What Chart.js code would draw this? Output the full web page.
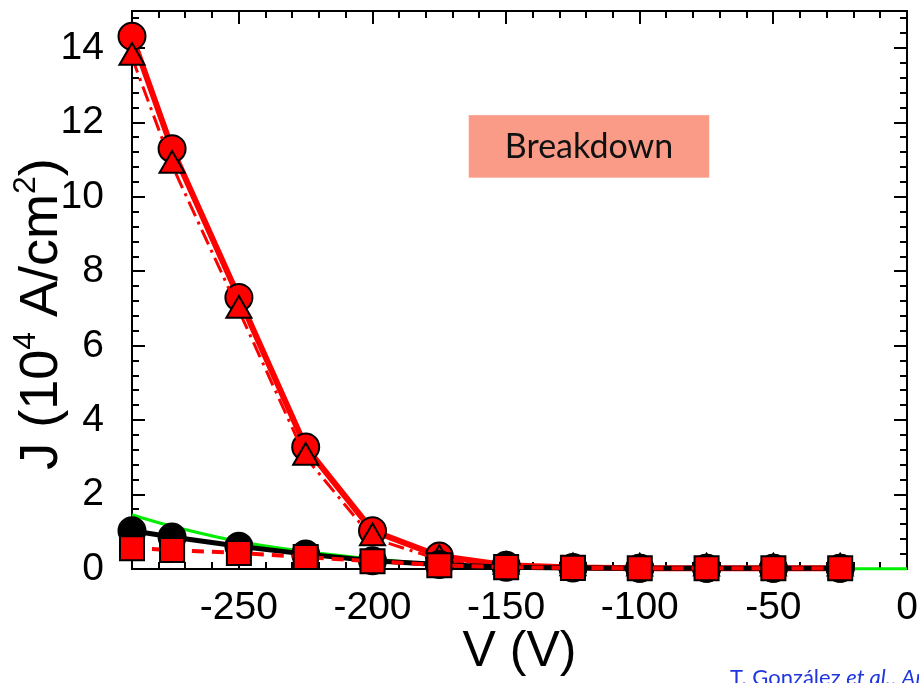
<!DOCTYPE html>
<html>
<head>
<meta charset="utf-8">
<script src="https://cdn.jsdelivr.net/npm/chart.js@4.4.0/dist/chart.umd.min.js"></script>
<style>
  html, body { margin: 0; padding: 0; background: #fff; }
</style>
</head>
<body>
<canvas id="graficoJV" width="919" height="683"></canvas>
<script>
// Datos (V en voltios, J en 10^4 A/cm^2)
const voltajes = [-290, -275, -250, -225, -200, -175, -150, -125, -100, -75, -50, -25];
const jCirculosRojos = [14.32, 11.3, 7.3, 3.28, 1.03, 0.35, 0.1, 0.04, 0.02, 0.02, 0.02, 0.02];
const jTriangulosRojos = [13.75, 10.85, 6.95, 3.0, 0.83, 0.25, 0.07, 0.03, 0.02, 0.02, 0.02, 0.02];
const jCirculosNegros = [1.03, 0.86, 0.61, 0.4, 0.22, 0.12, 0.05, 0.03, 0.02, 0.02, 0.02, 0.02];
const jCuadradosRojos = [0.56, 0.51, 0.43, 0.32, 0.21, 0.1, 0.05, 0.03, 0.02, 0.02, 0.02, 0.02];
const voltajesVerde = [-290, -275, -250, -225, -200, -175, -150, -125, -100, -75, -50, -25, 0];
const jVerde = [1.45, 1.15, 0.74, 0.47, 0.27, 0.13, 0.06, 0.03, 0.02, 0.01, 0.01, 0.01, 0.01];

const ticksX = [-250, -200, -150, -100, -50, 0];
const ticksY = [0, 2, 4, 6, 8, 10, 12, 14];

const pares = (xs, ys) => xs.map((x, i) => ({ x: x, y: ys[i] }));

// marco con ticks hacia dentro en los 4 lados + caja "Breakdown"
const marcoPlugin = {
    id: 'marco',
    beforeDatasetsDraw(chart) {
        const { ctx, chartArea: a, scales: { x, y } } = chart;
        ctx.save();
        // caja Breakdown
        const bx0 = x.getPixelForValue(-164), bx1 = x.getPixelForValue(-74);
        const by0 = y.getPixelForValue(12.2), by1 = y.getPixelForValue(10.52);
        ctx.fillStyle = '#fa9b88';
        ctx.fillRect(bx0, by0, bx1 - bx0, by1 - by0);
        ctx.fillStyle = '#111';
        ctx.font = '34px Lato';
        ctx.textAlign = 'center';
        ctx.textBaseline = 'middle';
        ctx.fillText('Breakdown', (bx0 + bx1) / 2, (by0 + by1) / 2 + 1);

        ctx.strokeStyle = '#000';
        ctx.lineWidth = 2;
        ctx.strokeRect(a.left, a.top, a.right - a.left, a.bottom - a.top);
        ctx.beginPath();
        for (let v = x.min; v <= x.max + 0.01; v += 10) {
            const px = Math.round(x.getPixelForValue(v));
            const largo = Math.abs(v % 50) < 0.01 ? 13 : 7;
            ctx.moveTo(px, a.bottom); ctx.lineTo(px, a.bottom - largo);
            ctx.moveTo(px, a.top); ctx.lineTo(px, a.top + largo);
        }
        for (let k = 0; k * 0.4 <= y.max + 0.001; k++) {
            const v = k * 0.4;
            const py = Math.round(y.getPixelForValue(v));
            const largo = (k % 5 === 0) ? 13 : 7;
            ctx.moveTo(a.left, py); ctx.lineTo(a.left + largo, py);
            ctx.moveTo(a.right, py); ctx.lineTo(a.right - largo, py);
        }
        ctx.stroke();
        ctx.restore();
    },
    afterDraw(chart) {
        const { ctx } = chart;
        ctx.save();
        // titulo eje Y con superindices
        const partes = [['J (10', 54, 0], ['4', 32, -22], [' A/cm', 54, 0], ['2', 32, -22], [')', 54, 0]];
        let total = 0;
        partes.forEach(p => { ctx.font = p[1] + 'px "Liberation Sans"'; total += ctx.measureText(p[0]).width; });
        ctx.translate(38, 314);
        ctx.rotate(-Math.PI / 2);
        ctx.fillStyle = '#000';
        ctx.textBaseline = 'alphabetic';
        let cx = -total / 2;
        partes.forEach(p => {
            ctx.font = p[1] + 'px "Liberation Sans"';
            ctx.fillText(p[0], cx, 19 + p[2]);
            cx += ctx.measureText(p[0]).width;
        });
        ctx.restore();

        // referencia
        ctx.save();
        ctx.fillStyle = '#1f35e0';
        ctx.textBaseline = 'alphabetic';
        let tx = 730;
        [['T. González ', ''], ['et al.', 'italic '], [', ', ''], ['Appl. Phys. Lett.', 'italic ']].forEach(p => {
            ctx.font = p[1] + '22px Lato';
            ctx.fillText(p[0], tx, 685);
            tx += ctx.measureText(p[0]).width;
        });
        ctx.restore();
    }
};

const ctx = document.getElementById('graficoJV').getContext('2d');
new Chart(ctx, {
    type: 'line',
    data: {
        datasets: [
            {
                label: 'cuadrados',
                data: pares(voltajes, jCuadradosRojos),
                borderColor: '#ff0000',
                borderWidth: 4,
                borderDash: [12, 8],
                pointStyle: 'rect',
                pointRadius: 17,
                pointBackgroundColor: '#ff0000',
                pointBorderColor: '#000',
                pointBorderWidth: 2,
                clip: false
            },
            {
                label: 'circulos negros',
                data: pares(voltajes, jCirculosNegros),
                borderColor: '#000',
                borderWidth: 5,
                pointStyle: 'circle',
                pointRadius: 13.5,
                pointBackgroundColor: '#000',
                pointBorderColor: '#000',
                pointBorderWidth: 2,
                clip: false
            },
            {
                label: 'triangulos',
                data: pares(voltajes, jTriangulosRojos),
                borderColor: '#ff0000',
                borderWidth: 3,
                borderDash: [16, 6, 3, 6],
                pointStyle: 'triangle',
                pointRadius: 14.5,
                pointBackgroundColor: '#ff0000',
                pointBorderColor: '#000',
                pointBorderWidth: 2,
                clip: false
            },
            {
                label: 'circulos rojos',
                data: pares(voltajes, jCirculosRojos),
                borderColor: '#ff0000',
                borderWidth: 6,
                pointStyle: 'circle',
                pointRadius: 13.5,
                pointBackgroundColor: '#ff0000',
                pointBorderColor: '#000',
                pointBorderWidth: 2,
                clip: false
            },
            {
                label: 'verde',
                data: pares(voltajesVerde, jVerde),
                borderColor: '#00ee00',
                borderWidth: 3,
                pointRadius: 0,
                tension: 0.4,
                clip: false
            }
        ]
    },
    options: {
        responsive: false,
        animation: false,
        devicePixelRatio: 1,
        layout: { padding: 0, autoPadding: false },
        plugins: { legend: { display: false }, tooltip: { enabled: false } },
        scales: {
            x: {
                type: 'linear',
                min: -290,
                max: 0,
                afterBuildTicks: s => { s.ticks = ticksX.map(v => ({ value: v })); },
                afterFit: s => {
                    s.height = 114;
                    s.paddingLeft = 0; s.paddingRight = 12; s.paddingTop = 0; s.paddingBottom = 0;
                },
                grid: { display: false, drawTicks: false },
                border: { display: false },
                ticks: {
                    padding: 16,
                    color: '#000',
                    autoSkip: false,
                    maxRotation: 0,
                    font: { family: 'Liberation Sans', size: 39 }
                },
                title: {
                    display: true,
                    text: 'V (V)',
                    color: '#000',
                    font: { family: 'Liberation Sans', size: 50 },
                    padding: { top: 0, bottom: 1 }
                }
            },
            y: {
                min: 0,
                max: 15,
                afterBuildTicks: s => { s.ticks = ticksY.map(v => ({ value: v })); },
                afterFit: s => {
                    s.width = 132;
                    s.paddingLeft = 0; s.paddingRight = 0; s.paddingTop = 11; s.paddingBottom = 0;
                },
                grid: { display: false, drawTicks: false },
                border: { display: false },
                ticks: {
                    padding: 28,
                    color: '#000',
                    font: { family: 'Liberation Sans', size: 39 }
                }
            }
        }
    },
    plugins: [marcoPlugin]
});
</script>
</body>
</html>
